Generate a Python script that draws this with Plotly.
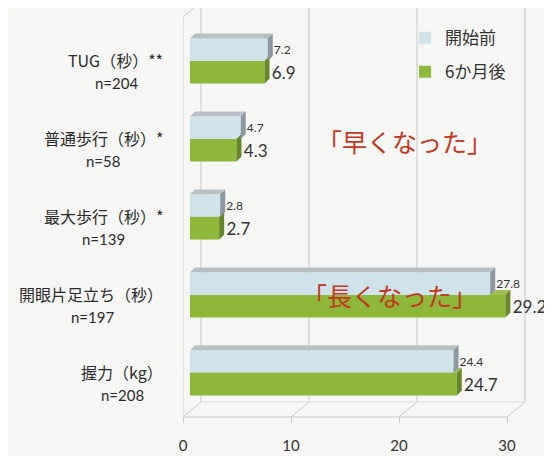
import plotly.graph_objects as go

# data
categories = ["TUG（秒）**", "普通歩行（秒）*", "最大歩行（秒）*", "開眼片足立ち（秒）", "握力（kg）"]
sample_sizes = ["n=204", "n=58", "n=139", "n=197", "n=208"]
before = [7.2, 4.7, 2.8, 27.8, 24.4]   # 開始前
after = [6.9, 4.3, 2.7, 29.2, 24.7]    # 6か月後
x_ticks = [0, 10, 20, 30]
ypos = list(range(len(categories)))

JP = "Noto Sans CJK JP"
NUM = "Lato"
BG = "#f6f7f4"
BLUE = "#cfe3ea"
GREEN = "#8db83a"
TOP = "#b8c0c4"
SIDE_BLUE = "#8c98a2"
SIDE_GREEN = "#66862a"
RED = "#c4361f"

# pixel scale of the plot area (used to convert the fake 3D depth into data units)
PX_X = 10.8
PX_Y = 79.5
half = 0.29  # height of one bar in y units
dx = 5 / PX_X
dy = 5 / PX_Y
LABEL_SIZE = 16
LABEL_GAP = 19  # px between the plot's left edge and the category labels

fig = go.Figure()
fig.add_trace(go.Bar(y=ypos, x=before, orientation="h", name="開始前",
                     marker=dict(color=BLUE, line=dict(width=0)),
                     texttemplate="\u00a0%{x}", textposition="outside",
                     textfont=dict(family=NUM, size=12, color="#333"),
                     cliponaxis=False, legendgroup="a"))
fig.add_trace(go.Bar(y=ypos, x=after, orientation="h", name="6か月後",
                     marker=dict(color=GREEN, line=dict(width=0)),
                     texttemplate="\u00a0%{x}", textposition="outside",
                     textfont=dict(family=NUM, size=17, color="#333"),
                     cliponaxis=False, legendgroup="b"))

shapes = []
# back wall gridlines and floor (back axis x2, front axis x3)
for t in x_ticks:
    shapes.append(dict(type="line", xref="x2", x0=t, x1=t, yref="paper",
                       ysizemode="pixel", yanchor=0, y0=15, y1=415,
                       line=dict(color="#c9c9c9", width=1), layer="below"))
    shapes.append(dict(type="line", xref="x3", xsizemode="pixel", xanchor=t, x0=0, x1=18,
                       yref="paper", ysizemode="pixel", yanchor=0, y0=0, y1=15,
                       line=dict(color="#c9c9c9", width=1), layer="below"))
shapes.append(dict(type="line", xref="x3", x0=x_ticks[0], x1=x_ticks[-1], yref="paper", y0=0, y1=0,
                   line=dict(color="#c9c9c9", width=1), layer="below"))
shapes.append(dict(type="line", xref="x2", x0=x_ticks[0], x1=x_ticks[-1], yref="paper",
                   ysizemode="pixel", yanchor=0, y0=15, y1=15,
                   line=dict(color="#dcdcdc", width=1), layer="below"))
# left front wall edge + top diagonal
shapes.append(dict(type="line", xref="x3", x0=0, x1=0, yref="paper",
                   ysizemode="pixel", yanchor=0, y0=0, y1=400,
                   line=dict(color="#c9c9c9", width=1), layer="below"))
shapes.append(dict(type="line", xref="x3", xsizemode="pixel", xanchor=0, x0=0, x1=18,
                   yref="paper", ysizemode="pixel", yanchor=0, y0=400, y1=415,
                   line=dict(color="#c9c9c9", width=1), layer="below"))
# tick marks between categories on the front wall
for i in range(len(categories) + 1):
    shapes.append(dict(type="line", xref="x3", xsizemode="pixel", xanchor=0, x0=-5, x1=0,
                       yref="y", ysizemode="pixel", yanchor=i - 0.5, y0=-4, y1=-4,
                       line=dict(color="#c9c9c9", width=1)))


def poly(pts):
    return "M" + "L".join(f"{x},{y}" for x, y in pts) + "Z"


# fake 3D faces of the bars
for i, (v, w) in enumerate(zip(before, after)):
    top_b = i - half
    # green top face (only visible where green is longer)
    shapes.append(dict(type="path", xref="x", yref="y", layer="below", line=dict(width=0),
                       fillcolor="#9fbf55",
                       path=poly([(0, i), (w, i), (w + dx, i - dy), (dx, i - dy)])))
    shapes.append(dict(type="path", xref="x", yref="y", line=dict(width=0), fillcolor=SIDE_GREEN,
                       path=poly([(w, i), (w + dx, i - dy), (w + dx, i + half - dy), (w, i + half)])))
    shapes.append(dict(type="path", xref="x", yref="y", line=dict(width=0), fillcolor=TOP,
                       path=poly([(0, top_b), (v, top_b), (v + dx, top_b - dy), (dx, top_b - dy)])))
    shapes.append(dict(type="path", xref="x", yref="y", line=dict(width=0), fillcolor=SIDE_BLUE,
                       path=poly([(v, top_b), (v + dx, top_b - dy), (v + dx, i - dy), (v, i)])))


def text_width(s, size):
    # rough width: full-width glyphs are 1em, latin ones ~0.58em
    return sum(size if ord(ch) > 0x2000 else size * 0.58 for ch in s)


annotations = []
for i, (c, n) in enumerate(zip(categories, sample_sizes)):
    # name above, n= below, both hanging off the same point so they don't overlap
    annotations.append(dict(xref="paper", x=0, xshift=-LABEL_GAP, xanchor="right",
                            yref="y", y=i, yanchor="bottom", yshift=-12, showarrow=False,
                            borderpad=0, text=c,
                            font=dict(family=JP, size=LABEL_SIZE, color="#2b2b2b")))
    annotations.append(dict(xref="paper", x=0, xshift=-LABEL_GAP - text_width(c, LABEL_SIZE) / 2,
                            xanchor="center", yref="y", y=i, yanchor="top", yshift=-12,
                            showarrow=False, borderpad=0, text=n,
                            font=dict(family=NUM, size=15, color="#2b2b2b")))
annotations.append(dict(xref="x", x=19.9, yref="y", y=1.02, xanchor="center", yanchor="middle",
                        showarrow=False, text="「早くなった」",
                        font=dict(family=JP, size=25, color=RED)))
annotations.append(dict(xref="x", x=18.5, yref="y", y=3.0, xanchor="center", yanchor="middle",
                        showarrow=False, text="「長くなった」",
                        font=dict(family=JP, size=25, color=RED)))

# the page puts the plot 8px in from the corner, so the figure is 8px smaller each way
fig.update_layout(
    width=544, height=448,
    margin=dict(l=175, r=22, t=2, b=31),
    paper_bgcolor=BG, plot_bgcolor=BG,
    barmode="group", bargap=0.42, bargroupgap=0,
    showlegend=True,
    legend=dict(x=0.64, y=0.975, xanchor="left", yanchor="top", bgcolor="rgba(0,0,0,0)",
                font=dict(family=JP, size=17, color="#333"),
                traceorder="grouped", tracegroupgap=9),
    xaxis=dict(range=[-7 / PX_X, 340 / PX_X], visible=False, fixedrange=True),
    xaxis2=dict(overlaying="x", anchor="y", range=[-18 / PX_X, 329 / PX_X],
                showgrid=False, zeroline=False, showticklabels=False, ticks=""),
    xaxis3=dict(overlaying="x", anchor="y", side="bottom", range=[0, 347 / PX_X],
                tickvals=x_ticks, ticks="outside", ticklen=5, tickcolor="#c9c9c9",
                ticklabelstandoff=10,
                showgrid=False, zeroline=False, showline=False,
                tickfont=dict(family=NUM, size=15, color="#333")),
    yaxis=dict(range=[-0.654 + 415 / PX_Y, -0.654], visible=False),
    shapes=shapes,
    annotations=annotations,
)

fig.write_html("out.html")
